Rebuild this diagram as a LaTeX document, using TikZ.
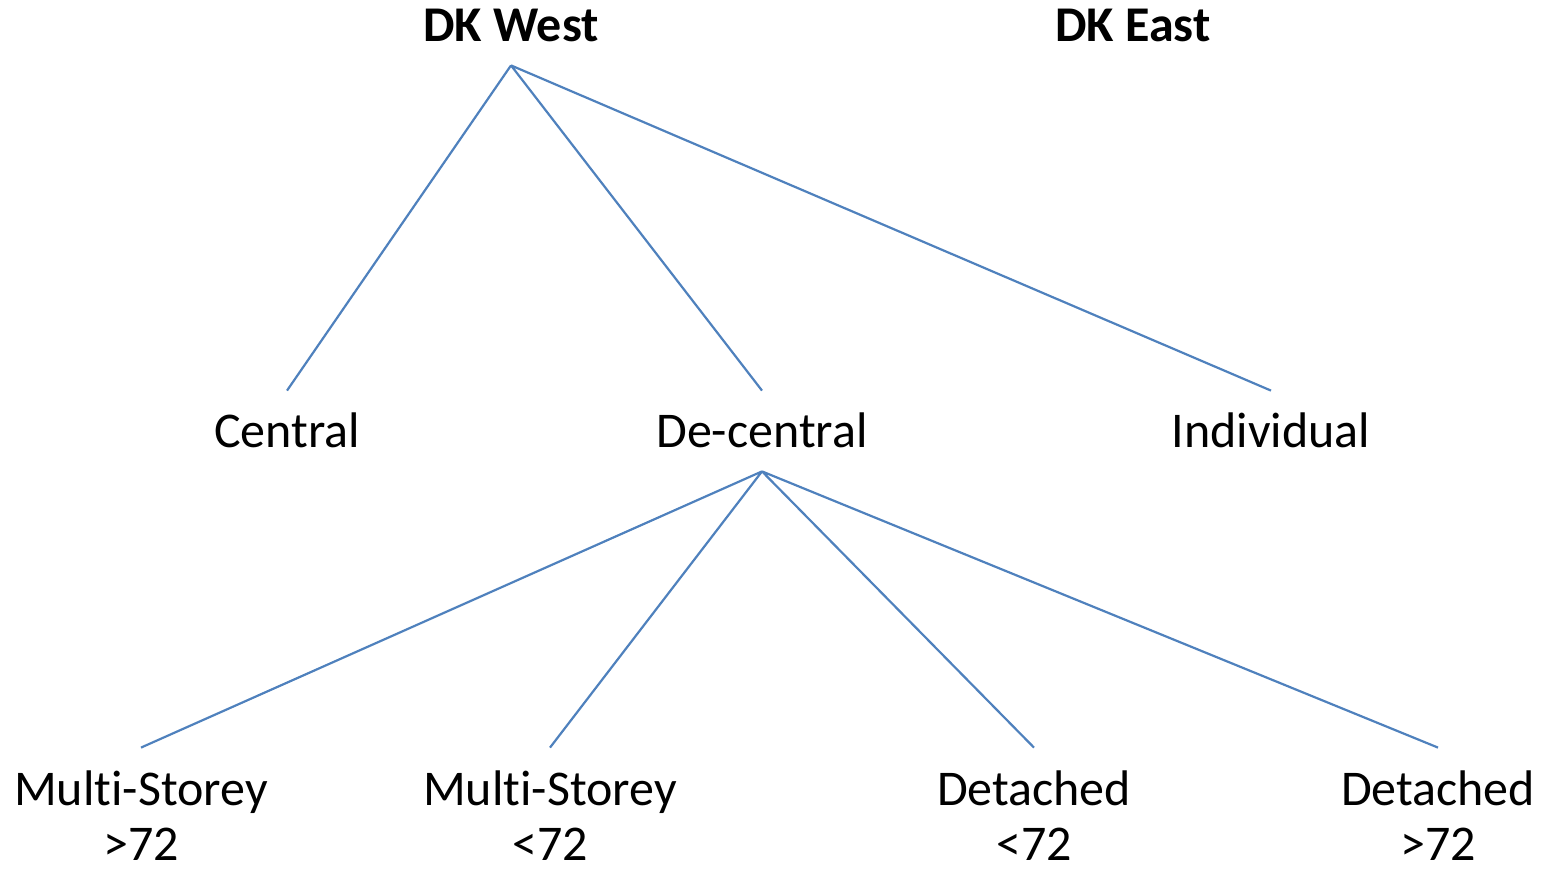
\documentclass[tikz,border=0pt]{standalone}
\usepackage{fontspec}
\setmainfont[Ligatures=NoCommon]{Carlito}
\definecolor{edgeblue}{RGB}{79,129,189}
\begin{document}
\begin{tikzpicture}[x=0.5pt,y=-0.5pt]
            \useasboundingbox (0,0) rectangle (1546,870);
            \begin{scope}[every node/.style={anchor=base,align=center,inner xsep=0pt,inner ysep=11.5pt,text height=17pt,text depth=0pt,font=\fontsize{25}{27.5}\selectfont}]
                \node[font=\fontsize{25}{27.5}\selectfont\bfseries] (west) at (511,42) {DK West};
                \node[font=\fontsize{25}{27.5}\selectfont\bfseries] (east) at (1133,42) {DK East};
                \node (central) at (287,448) {Central};
                \node (decentral) at (762,448) {De-central};
                \node (individual) at (1271,448) {Individual};
            \end{scope}
            \begin{scope}[every node/.style={anchor=base,align=center,inner xsep=0pt,inner ysep=11.5pt,text height=44.5pt,text depth=0pt,font=\fontsize{25}{27.5}\selectfont}]
                \node (msbig) at (141,860) {Multi-Storey\\>72};
                \node (mssmall) at (550,860) {Multi-Storey\\<72};
                \node (detsmall) at (1034,860) {Detached\\<72};
                \node (detbig) at (1438,860) {Detached\\>72};
            \end{scope}
            \draw[edgeblue,line width=1.1pt] (west.south) -- (central.north) (west.south) -- (decentral.north) (west.south) -- (individual.north);
            \draw[edgeblue,line width=1.1pt] (decentral.south) -- (msbig.north) (decentral.south) -- (mssmall.north) (decentral.south) -- (detsmall.north) (decentral.south) -- (detbig.north);
        \end{tikzpicture}
\end{document}
